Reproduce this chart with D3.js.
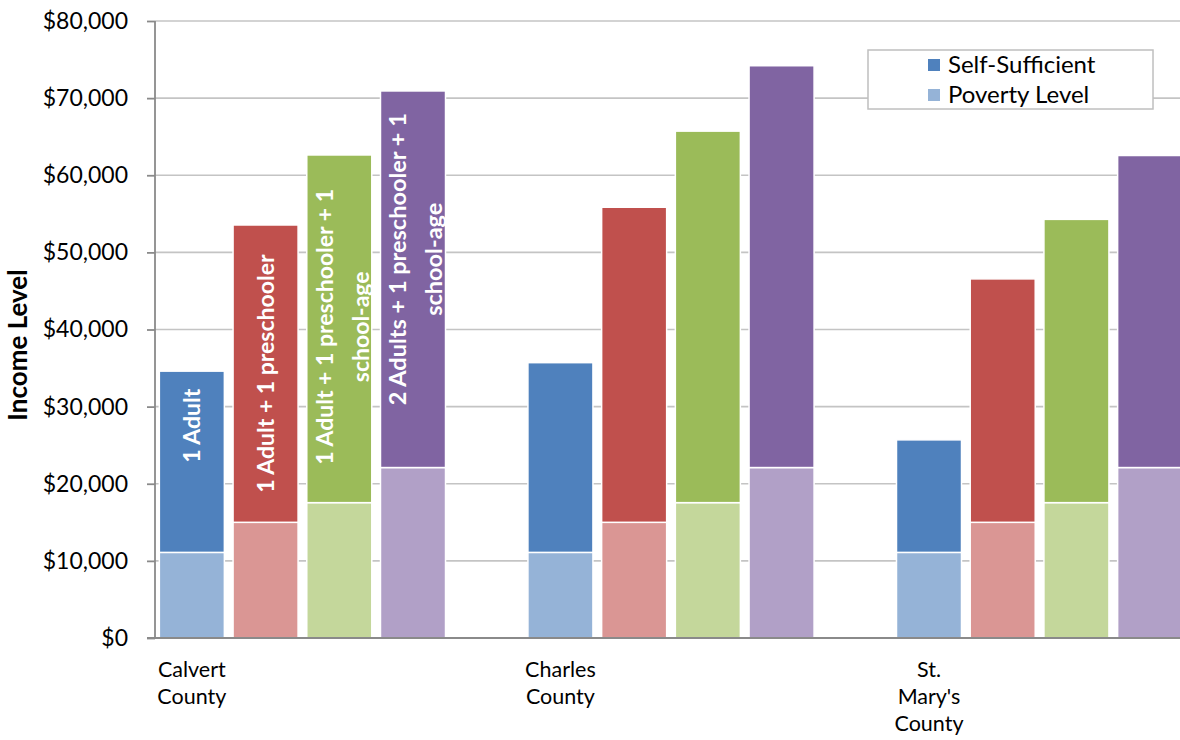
<!DOCTYPE html>
<html>
<head>
<meta charset="utf-8">
<script src="https://cdn.jsdelivr.net/npm/d3@7"></script>
<style>
  html, body { margin: 0; padding: 0; background: #ffffff; }
  svg { display: block; font-family: Lato, "Open Sans", sans-serif; }
</style>
</head>
<body>
<svg id="chart" width="1180" height="740"></svg>
<script>
// ---------- data ----------
const counties = ["Calvert County", "Charles County", "St. Mary's County"];
const countyLabelLines = [["Calvert", "County"], ["Charles", "County"], ["St.", "Mary's", "County"]];
const households = ["1 Adult", "1 Adult + 1 preschooler", "1 Adult + 1 preschooler + 1 school-age", "2 Adults + 1 preschooler + 1 school-age"];
const householdLabelLines = [["1 Adult"], ["1 Adult + 1 preschooler"], ["1 Adult + 1 preschooler + 1", "school-age"], ["2 Adults + 1 preschooler + 1", "school-age"]];
const calvertSelfSufficient = [34600, 53550, 62630, 70930];
const charlesSelfSufficient = [35700, 55850, 65720, 74200];
const stMarysSelfSufficient = [25690, 46560, 54280, 62560];
const povertyLevel = [11100, 15000, 17550, 22100];
const yTicks = [0, 10000, 20000, 30000, 40000, 50000, 60000, 70000, 80000];
const legendLabels = ["Self-Sufficient", "Poverty Level"];

// ---------- styles ----------
const darkColors = ["#4F81BD", "#C0504D", "#9BBB59", "#8064A2"];
const lightColors = ["#95B3D7", "#DA9694", "#C4D79B", "#B1A0C7"];
const W = 1180, H = 740;
const plot = { left: 155, right: 1187, top: 21, bottom: 638 };
const labelOffsets = [-36, 0, -2, -20]; // px shift of in-bar labels from segment centre
const labelFontSizes = [23, 23, 23, 23.5];

const selfByCounty = [calvertSelfSufficient, charlesSelfSufficient, stMarysSelfSufficient];

const svg = d3.select("#chart");

const slots = d3.range(counties.length * (households.length + 1) - 1);
const x = d3.scaleBand().domain(slots).range([plot.left, plot.right])
  .paddingInner(0.118).paddingOuter(0.059);
const y = d3.scaleLinear().domain([0, 80000]).range([plot.bottom, plot.top]);

// gridlines
svg.append("g").selectAll("line").data(yTicks.filter(d => d > 0)).join("line")
  .attr("x1", plot.left).attr("x2", W)
  .attr("y1", d => y(d)).attr("y2", d => y(d))
  .attr("stroke", "#c4c4c4").attr("stroke-width", 1.6);

// bars
const rows = [];
counties.forEach((c, ci) => {
  households.forEach((h, hi) => {
    rows.push({ ci, hi, slot: ci * (households.length + 1) + hi,
      poverty: povertyLevel[hi], self: selfByCounty[ci][hi] });
  });
});

const barG = svg.append("g");
barG.selectAll("rect.pov").data(rows).join("rect").attr("class", "pov")
  .attr("x", d => x(d.slot)).attr("width", x.bandwidth())
  .attr("y", d => y(d.poverty)).attr("height", d => y(0) - y(d.poverty))
  .attr("fill", d => lightColors[d.hi]).attr("stroke", "#ffffff").attr("stroke-width", 1.5);
barG.selectAll("rect.self").data(rows).join("rect").attr("class", "self")
  .attr("x", d => x(d.slot)).attr("width", x.bandwidth())
  .attr("y", d => y(d.self)).attr("height", d => y(d.poverty) - y(d.self))
  .attr("fill", d => darkColors[d.hi]).attr("stroke", "#ffffff").attr("stroke-width", 1.5);

// in-bar labels (first county)
const lh = 36;
rows.filter(d => d.ci === 0).forEach(d => {
  const cx = x(d.slot) + x.bandwidth() / 2;
  const cy = (y(d.self) + y(d.poverty)) / 2 + labelOffsets[d.hi];
  const lines = householdLabelLines[d.hi];
  const t = svg.append("text")
    .attr("transform", `translate(${cx + (lines.length > 1 ? 3 : 0)},${cy}) rotate(-90)`)
    .attr("text-anchor", "middle").attr("fill", "#ffffff")
    .attr("font-weight", "bold").attr("font-size", labelFontSizes[d.hi]);
  lines.forEach((ln, i) => {
    t.append("tspan").attr("x", 0)
      .attr("y", (i - (lines.length - 1) / 2) * lh)
      .attr("dy", "0.36em").text(ln);
  });
});

// y axis
const yAxis = d3.axisLeft(y).tickValues(yTicks).tickFormat(d3.format("$,")).tickSize(8).tickPadding(19);
const yg = svg.append("g").attr("transform", `translate(${plot.left},0)`).call(yAxis);
yg.select(".domain").attr("stroke", "#8a8a8a").attr("stroke-width", 1.8)
  .attr("d", `M0,${plot.top}V${plot.bottom}`);
yg.selectAll(".tick line").attr("stroke", "#8a8a8a").attr("stroke-width", 1.8);
yg.selectAll(".tick text").attr("font-size", 23).attr("fill", "#000").attr("font-family", "Lato, sans-serif");

// x axis line
svg.append("line").attr("x1", plot.left - 8).attr("x2", W)
  .attr("y1", plot.bottom).attr("y2", plot.bottom)
  .attr("stroke", "#8a8a8a").attr("stroke-width", 1.8);

// category labels
counties.forEach((c, ci) => {
  const cx = x(ci * (households.length + 1)) + x.bandwidth() / 2;
  const t = svg.append("text").attr("text-anchor", "middle")
    .attr("font-size", 21.5).attr("fill", "#000");
  countyLabelLines[ci].forEach((ln, i) => {
    t.append("tspan").attr("x", cx).attr("y", 677 + i * 27).text(ln);
  });
});

// y title
svg.append("text").attr("transform", "translate(27,345) rotate(-90)")
  .attr("text-anchor", "middle").attr("font-weight", "bold").attr("font-size", 26)
  .attr("fill", "#000").text("Income Level");

// legend
const lg = svg.append("g");
lg.append("rect").attr("x", 868).attr("y", 50).attr("width", 285).attr("height", 59)
  .attr("fill", "#ffffff").attr("stroke", "#bfbfbf").attr("stroke-width", 1.5);
legendLabels.forEach((lab, i) => {
  lg.append("rect").attr("x", 928).attr("y", 59 + i * 30).attr("width", 12).attr("height", 12)
    .attr("fill", i === 0 ? darkColors[0] : lightColors[0]);
  lg.append("text").attr("x", 948).attr("y", 73 + i * 30).attr("font-size", 24)
    .attr("fill", "#000").text(lab);
});
</script>
</body>
</html>
